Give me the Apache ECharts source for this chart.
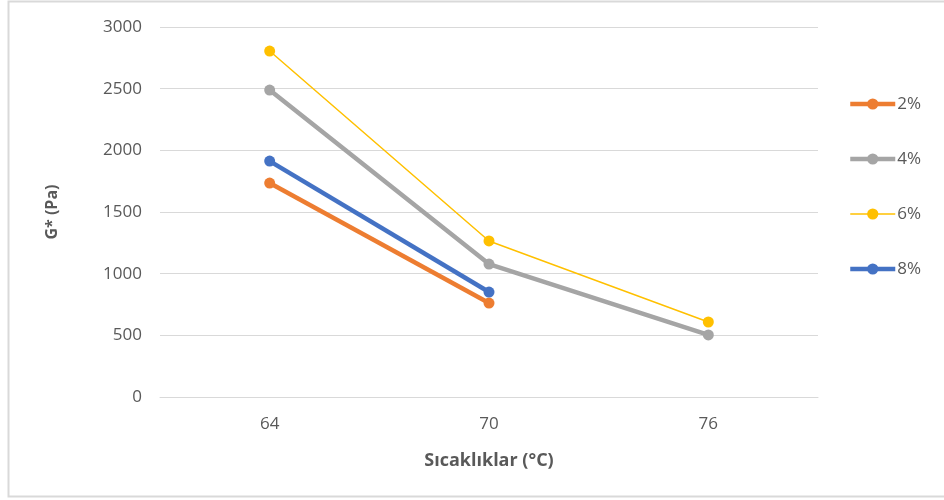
<!DOCTYPE html>
<html>
<head>
<meta charset="utf-8">
<script src="https://cdn.jsdelivr.net/npm/echarts@6/dist/echarts.min.js"></script>
<style>
  html, body { margin: 0; padding: 0; background: #fff; }
  #chart { width: 944px; height: 500px; }
</style>
</head>
<body>
<div id="chart"></div>
<script>
// Temperatures (°C) on the category axis
var temperatures = ['64', '70', '76'];

// G* (Pa) for each additive ratio
var s2 = [1735, 762, null];
var s4 = [2489, 1078, 503];
var s6 = [2805, 1265, 608];
var s8 = [1913, 851, null];

var seriesNames = ['2%', '4%', '6%', '8%'];
var seriesColors = ['#ED7D31', '#A5A5A5', '#FFC000', '#4472C4'];
var seriesWidths = [4.5, 4.5, 1.5, 4.5];
var yTicks = { min: 0, max: 3000, interval: 500 };

var textGray = '#595959';
var font = '"Open Sans", "Noto Sans", sans-serif';

function lineSeries(i, data, z) {
  return {
    name: seriesNames[i],
    type: 'line',
    data: data,
    z: z,
    symbol: 'circle',
    symbolSize: 11,
    lineStyle: { color: seriesColors[i], width: seriesWidths[i] },
    itemStyle: { color: seriesColors[i] },
    emphasis: { disabled: true },
    animation: false
  };
}

var chart = echarts.init(document.getElementById('chart'), null, { renderer: 'canvas' });
chart.setOption({
  backgroundColor: '#ffffff',
  animation: false,
  textStyle: { fontFamily: font },
  graphic: [{
    type: 'rect',
    shape: { x: 8.5, y: 1.5, width: 960, height: 495 },
    style: { fill: 'none', stroke: '#d9d9d9', lineWidth: 2 },
    silent: true
  }],
  grid: { left: 160, right: 126, top: 27, bottom: 103, containLabel: false },
  legend: {
    orient: 'vertical',
    left: 843,
    top: 88,
    itemGap: 33,
    itemWidth: 45,
    itemHeight: 14,
    textStyle: { color: textGray, fontSize: 17, lineHeight: 22, fontFamily: font, padding: [0, 0, 0, -3] },
    data: seriesNames.map(function (n, i) {
      return { name: n, lineStyle: { width: seriesWidths[i], color: seriesColors[i] } };
    })
  },
  xAxis: {
    type: 'category',
    data: temperatures,
    boundaryGap: true,
    name: 'Sıcaklıklar (°C)',
    nameLocation: 'middle',
    nameGap: 55,
    nameTextStyle: { color: textGray, fontSize: 18, fontWeight: 'bold', fontFamily: font },
    axisLine: { show: true, lineStyle: { color: '#d9d9d9', width: 1 } },
    axisTick: { show: false },
    axisLabel: { color: textGray, fontSize: 17, margin: 19, fontFamily: font }
  },
  yAxis: {
    type: 'value',
    min: yTicks.min,
    max: yTicks.max,
    interval: yTicks.interval,
    name: 'G* (Pa)',
    nameLocation: 'middle',
    nameGap: 100,
    nameRotate: 90,
    nameTextStyle: { color: textGray, fontSize: 16, fontWeight: 'bold', fontFamily: font },
    axisLine: { show: false },
    axisTick: { show: false },
    axisLabel: {
      color: textGray, fontSize: 17, margin: 18, fontFamily: font,
      formatter: function (v) { return String(v); }
    },
    splitLine: { lineStyle: { color: '#d9d9d9', width: 1 } }
  },
  series: [
    lineSeries(0, s2, 2),
    lineSeries(1, s4, 4),
    lineSeries(2, s6, 3),
    lineSeries(3, s8, 5)
  ]
});
</script>
</body>
</html>
